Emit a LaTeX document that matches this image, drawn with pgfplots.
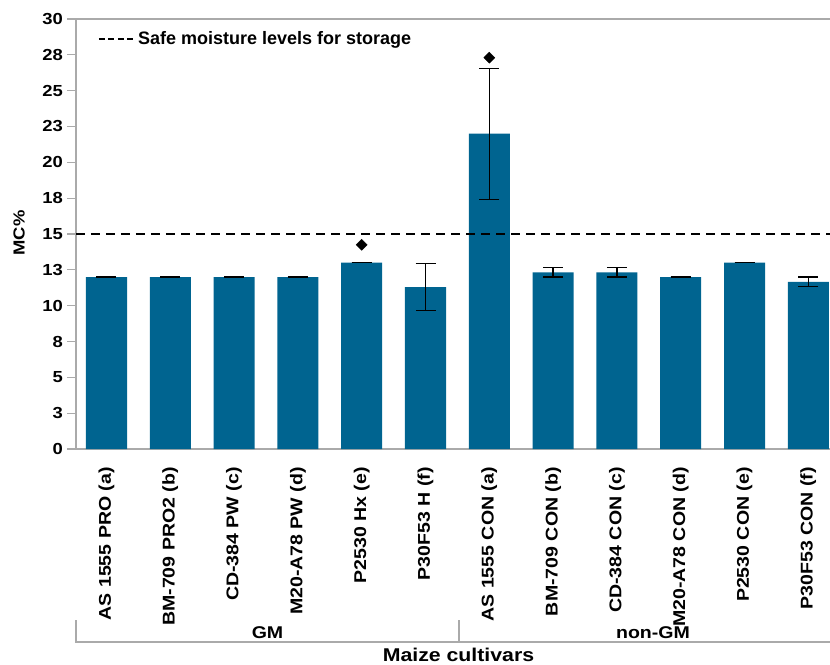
\documentclass[border=0pt]{standalone}
\usepackage{fontspec}
\setmainfont{Liberation Sans}
\newfontfamily\sfw{Liberation Sans}[FakeStretch=1.15]
\usepackage{pgfplots}
\pgfplotsset{compat=1.18}
\definecolor{barblue}{RGB}{0,100,144}
\definecolor{axgray}{RGB}{170,170,170}
\newcommand\ytfont{\sfw\bfseries\fontsize{16bp}{18bp}\selectfont}
\newcommand\xtfont{\sfw\bfseries\fontsize{17bp}{19bp}\selectfont}
\begin{document}
\begin{tikzpicture}
\begin{axis}[
  scale only axis,
  width=754bp, height=430bp,
  xmin=-0.478, xmax=11.34,
  ymin=0, ymax=30,
  axis x line*=bottom, axis y line*=left,
  axis line style={axgray, line width=1.3bp},
  xtick={0,...,11},
  xticklabels={AS 1555 PRO (a),BM-709 PRO2 (b),CD-384 PW (c),M20-A78 PW (d),P2530 Hx (e),P30F53 H (f),AS 1555 CON (a),BM-709 CON (b),CD-384 CON (c),M20-A78 CON (d),P2530 CON (e),P30F53 CON (f)},
  xticklabel style={font=\xtfont, rotate=90, anchor=east, inner sep=0pt},
  xticklabel shift=9bp,
  x tick style={draw=none},
  ytick={0,2.5,...,30},
  yticklabels={0,3,5,8,10,13,15,18,20,23,25,28,30},
  yticklabel style={font=\ytfont, anchor=east, inner sep=0pt},
  major tick length=9bp,
  tick align=outside,
  y tick style={axgray, line width=1.1bp},
  yticklabel shift=4bp,
  legend style={draw=none, fill=none, inner sep=0pt, at={(0.0292,0.9535)}, anchor=west,
    font=\bfseries\fontsize{18bp}{20bp}\selectfont, nodes={inner xsep=3.5bp, inner ysep=0pt}},
  legend cell align=left,
]
\addplot[ybar, bar width=0.643, bar shift=0pt, fill=barblue, draw=none, forget plot,
  error bars/.cd, y dir=both, y explicit,
  error bar style={black, line width=1.3bp},
  error mark options={black, rotate=90, mark size=10bp, line width=1.3bp}]
coordinates {
  (0,12.0) +- (0,0)
  (1,12.0) +- (0,0)
  (2,12.0) +- (0,0)
  (3,12.0) +- (0,0)
  (4,13.0) +- (0,0)
  (5,11.3) +- (0,1.65)
  (6,22.0) +- (0,4.57)
  (7,12.33) +- (0,0.32)
  (8,12.33) +- (0,0.32)
  (9,12.0) +- (0,0)
  (10,13.0) +- (0,0)
  (11,11.66) +- (0,0.33)
};
\addplot[black, line width=1.3bp, dash pattern=on 9bp off 6bp,
  legend image code/.code={\draw[black, line width=1.3bp, dash pattern=on 6bp off 3.5bp] (0bp,0bp) -- (35bp,0bp);}]
coordinates {(-0.478,15) (11.34,15)};
\addlegendentry{Safe moisture levels for storage}
\addplot[only marks, mark=square*, mark size=3.9bp, mark options={rotate=45, fill=black, draw=black}, forget plot]
coordinates {(4,14.25) (6,27.3)};
\end{axis}
\draw[axgray, line width=1.3bp] (0bp,430bp) -- (754bp,430bp);
\draw[axgray, line width=1.3bp] (0bp,-171bp) -- (0bp,-193bp) -- (760bp,-193bp);
\draw[axgray, line width=1.3bp] (383bp,-171bp) -- (383bp,-193bp);
\node[anchor=base, inner sep=0pt, font=\sfw\bfseries\fontsize{17bp}{19bp}\selectfont] at (191.5bp,-189bp) {GM};
\node[anchor=base, inner sep=0pt, font=\sfw\bfseries\fontsize{17bp}{19bp}\selectfont] at (577bp,-189bp) {non-GM};
\node[anchor=base, inner sep=0pt, font=\sfw\bfseries\fontsize{18.5bp}{20bp}\selectfont] at (382.5bp,-212.5bp) {Maize cultivars};
\node[rotate=90, inner sep=0pt, font=\sfw\bfseries\fontsize{16bp}{18bp}\selectfont] at (-57bp,216bp) {MC\%};
\pgfresetboundingbox
\useasboundingbox (-76bp,-216bp) rectangle (754bp,449bp);
\end{tikzpicture}
\end{document}
